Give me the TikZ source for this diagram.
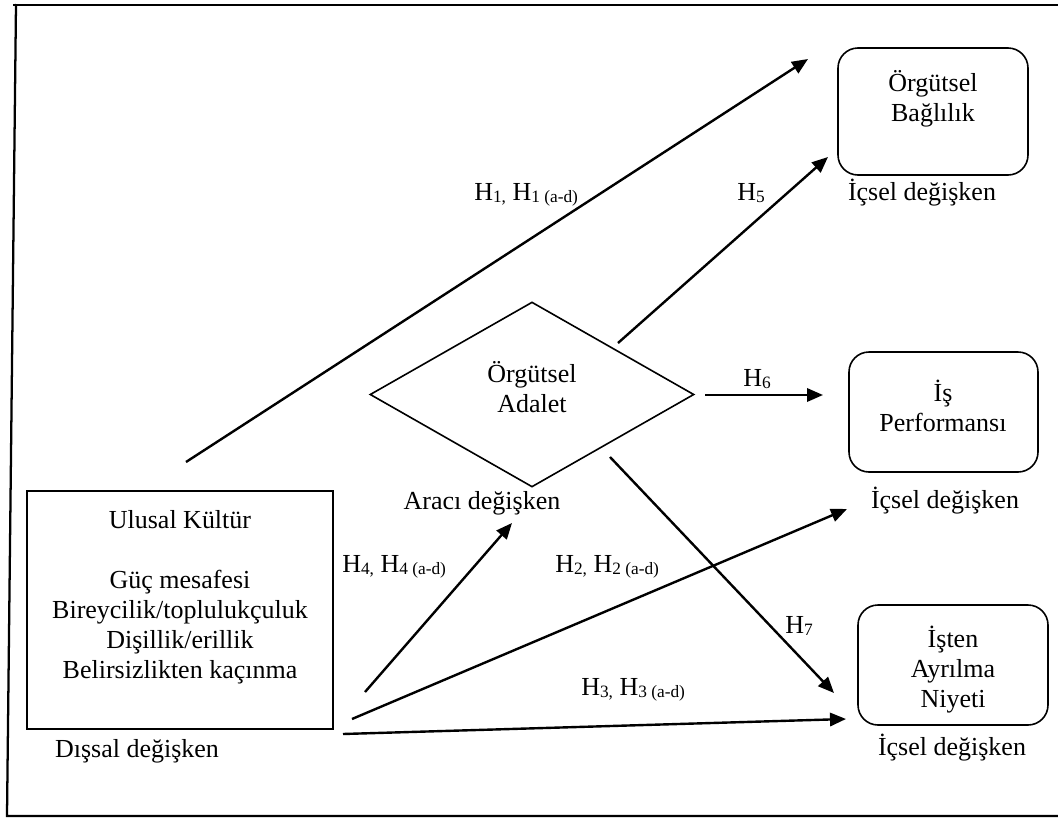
\documentclass[tikz,border=0pt]{standalone}
\usepackage{fontspec}
\setmainfont{Liberation Serif}
\usetikzlibrary{arrows.meta,shapes.geometric}
% lowered small index used in the hypothesis labels
\newcommand\hsub[1]{\raisebox{-1.6pt}{\fontsize{13}{13}\selectfont #1}}
\begin{document}
\begin{tikzpicture}[x=0.75pt,y=-0.75pt,
  every node/.style={font=\fontsize{19.5}{22.5}\selectfont, inner sep=0pt},
  txt/.style={align=center},
  lbl/.style={anchor=base},
  hyp/.style={anchor=base west},
  outcome/.style={draw, line width=1.2pt, rounded corners=15pt},
  sharpbox/.style={draw, line width=1.2pt},
  mediator/.style={draw, diamond, line width=1.2pt},
  link/.style={line width=1.8pt, -{Triangle[length=12pt,width=10pt]}},
  border/.style={line width=1.7pt}]
\useasboundingbox (0,0) rectangle (1058,818);

% open frame around the model
\draw[border] (13,5) -- (1058,5);
\draw[border] (16,4) -- (7,816) -- (1058,816);

% exogenous variable
\node[sharpbox, minimum width=306*0.75pt, minimum height=238*0.75pt] (culture) at (180,610) {};
\node[txt] (culturetext) at (180,597) {Ulusal Kültür\\[22.5pt]Güç mesafesi\\Bireycilik/toplulukçuluk\\Dişillik/erillik\\Belirsizlikten kaçınma};
\node[lbl] (exo) at (137,757) {Dışsal değişken};

% mediator
\node[mediator, minimum width=324*0.75pt, minimum height=185*0.75pt] (justice) at (532,394.5) {};
\node[txt] (justicetext) at (532,387) {Örgütsel\\Adalet};
\node[lbl] (med) at (482,509) {Aracı değişken};

% endogenous variables
\node[outcome, minimum width=190*0.75pt, minimum height=127*0.75pt] (bond) at (933,111.5) {};
\node[txt] (bondtext) at (933,99) {Örgütsel\\Bağlılık};
\node[lbl] (endo1) at (922,200) {İçsel değişken};

\node[outcome, minimum width=189*0.75pt, minimum height=120*0.75pt] (perf) at (943.5,412) {};
\node[txt] (perftext) at (943,406) {İş\\Performansı};
\node[lbl] (endo2) at (945,508) {İçsel değişken};

\node[outcome, minimum width=190*0.75pt, minimum height=120*0.75pt] (quit) at (953,665) {};
\node[txt] (quittext) at (953,670) {İşten\\Ayrılma\\Niyeti};
\node[lbl] (endo3) at (952,755) {İçsel değişken};

% connector end points
\coordinate (h1a) at (186,462);  \coordinate (h1b) at (808,59);
\coordinate (h5a) at (618,343);  \coordinate (h5b) at (828,157);
\coordinate (h6a) at (705,395);  \coordinate (h6b) at (823,395);
\coordinate (h7a) at (610,457);  \coordinate (h7b) at (834,693);
\coordinate (h4a) at (365,692);  \coordinate (h4b) at (512,523);
\coordinate (h2a) at (352,719);  \coordinate (h2b) at (847,509);
\coordinate (h3a) at (343,734);  \coordinate (h3b) at (846,719);

\draw[link] (h1a) -- (h1b);
\draw[link] (h5a) -- (h5b);
\draw[link] (h6a) -- (h6b);
\draw[link] (h7a) -- (h7b);
\draw[link] (h4a) -- (h4b);
\draw[link] (h2a) -- (h2b);
\draw[link] (h3a) -- (h3b);

% hypothesis labels
\node[hyp] (l1) at (474,200) {H\hsub{1,} H\hsub{1 (a-d)}};
\node[hyp] (l5) at (737,200) {H\hsub{5}};
\node[hyp] (l6) at (743,386) {H\hsub{6}};
\node[hyp] (l7) at (785,633) {H\hsub{7}};
\node[hyp] (l4) at (342,572) {H\hsub{4,} H\hsub{4 (a-d)}};
\node[hyp] (l2) at (555,572) {H\hsub{2,} H\hsub{2 (a-d)}};
\node[hyp] (l3) at (581,695) {H\hsub{3,} H\hsub{3 (a-d)}};
\end{tikzpicture}
\end{document}
